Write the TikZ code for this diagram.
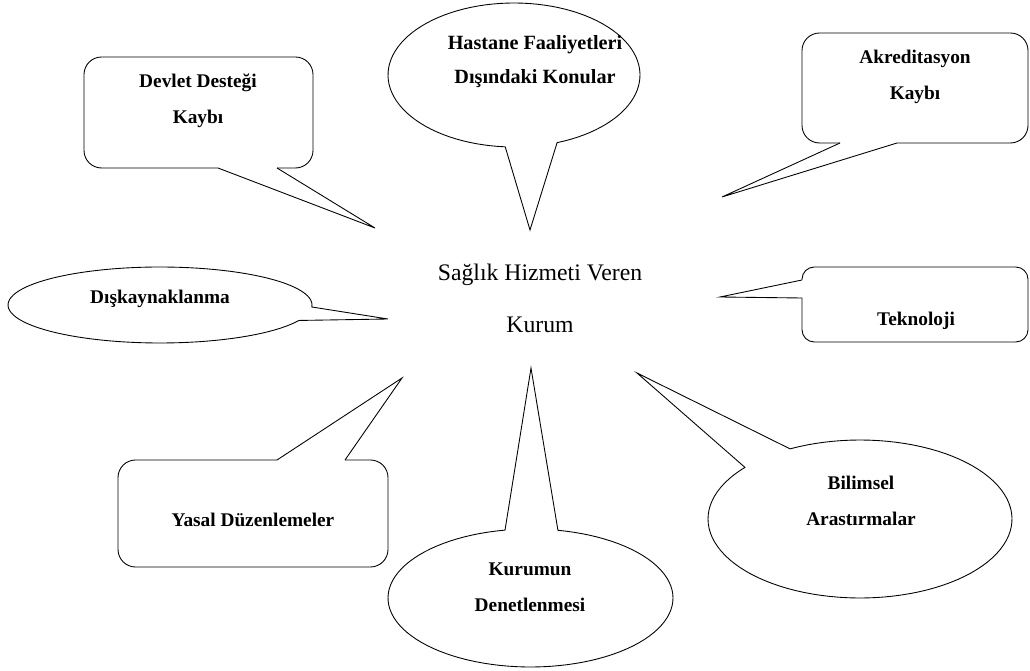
\documentclass[tikz,border=0pt]{standalone}
\usepackage{fontspec}
\setmainfont{Liberation Serif}
\usepackage{tikz}

\begin{document}
\begin{tikzpicture}[x=0.02cm, y=-0.02cm,
    bubble/.style={draw, line width=0.5pt},
    bubbletext/.style={align=center, inner sep=0pt, font=\bfseries\fontsize{11}{20.5}\selectfont},
    maintext/.style={align=center, inner sep=0pt, font=\fontsize{13.5}{30}\selectfont}]
    \useasboundingbox (0,0) rectangle (1030,671);

    % Center text
    \node (kurum) [maintext] at (540,298.5) {Sağlık Hizmeti Veren\\Kurum};

    % Pointer tips
    \coordinate (devlettip) at (375,228);
    \coordinate (hastanetip) at (530,230);
    \coordinate (akredtip) at (722,197);
    \coordinate (disktip) at (388,319);
    \coordinate (teknotip) at (720,297);
    \coordinate (yasaltip) at (402,378);
    \coordinate (denettip) at (531,368);
    \coordinate (bilimtip) at (637,373);

    % Rounded callouts
    \draw[bubble, rounded corners=10pt] (277,168) -- (313,168) -- (313,57) -- (84,57) -- (84,168) -- (218,168);
    \draw[bubble] (218,168) -- (devlettip) -- (277,168);
    \draw[bubble, rounded corners=10pt] (840,143) -- (802,143) -- (802,33) -- (1028,33) -- (1028,143) -- (897,143);
    \draw[bubble] (840,143) -- (akredtip) -- (897,143);
    \draw[bubble, rounded corners=7pt] (802,280) -- (802,267) -- (1028,267) -- (1028,342) -- (802,342) -- (802,298);
    \draw[bubble] (802,280) -- (teknotip) -- (802,298);
    \draw[bubble, rounded corners=10pt] (345,460) -- (388,460) -- (388,567) -- (118,567) -- (118,460) -- (277,460);
    \draw[bubble] (277,460) -- (yasaltip) -- (345,460);

    % Oval callouts
    \draw[bubble] plot[domain=94:430, samples=100] ({514+126*cos(\x)},{75+72*sin(\x)}) -- (hastanetip) -- cycle;
    \draw[bubble] plot[domain=24:363, samples=100] ({160+152*cos(\x)},{305+38*sin(\x)}) -- (disktip) -- cycle;
    \draw[bubble] plot[domain=281.1:619.7, samples=100] ({530.5+142.5*cos(\x)},{598+69*sin(\x)}) -- (denettip) -- cycle;
    \draw[bubble] plot[domain=242.6:580.8, samples=100] ({860+152*cos(\x)},{519+79*sin(\x)}) -- (bilimtip) -- cycle;

    % Callout texts
    \node (devlet) [bubbletext] at (198,100.5) {Devlet Desteği\\Kaybı};
    \node (hastane) [bubbletext, font=\bfseries\fontsize{11.5}{19}\selectfont] at (535,61.5) {Hastane Faaliyetleri\\Dışındaki Konular};
    \node (akred) [bubbletext] at (915,77) {Akreditasyon\\Kaybı};
    \node (disk) [bubbletext] at (160,299) {Dışkaynaklanma};
    \node (tekno) [bubbletext] at (916,320.5) {Teknoloji};
    \node (yasal) [bubbletext] at (253,520) {Yasal Düzenlemeler};
    \node (denet) [bubbletext] at (530,587) {Kurumun\\Denetlenmesi};
    \node (bilim) [bubbletext] at (861,501) {Bilimsel\\Arastırmalar};
\end{tikzpicture}
\end{document}
